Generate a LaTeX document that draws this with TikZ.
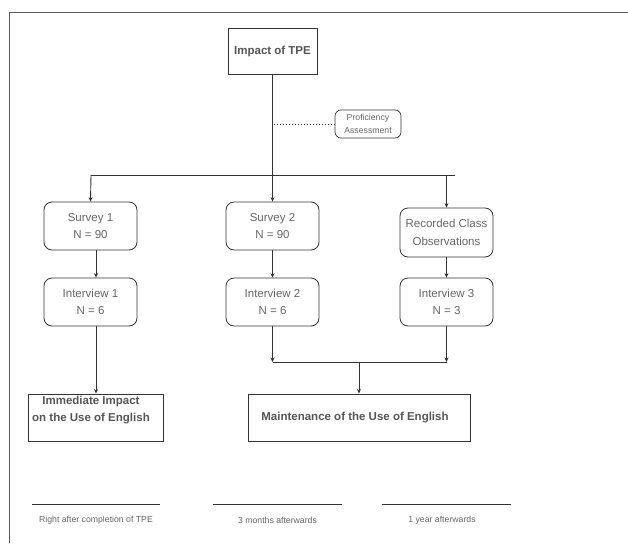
\documentclass[tikz,border=0pt]{standalone}
\usepackage{fontspec}
\setmainfont{Liberation Sans}
\usetikzlibrary{arrows.meta}
\definecolor{lnc}{HTML}{333333}
\definecolor{txc}{HTML}{666666}
\definecolor{btc}{HTML}{555555}
\tikzset{
  rbox/.style={draw=lnc, line width=0.8pt, rounded corners=8pt, minimum width=93pt, minimum height=48pt, align=center, text=txc, font=\fontsize{11.5}{17.5}\selectfont},
  sbox/.style={draw=lnc, line width=1pt, inner sep=0pt},
  btxt/.style={text=btc, font=\bfseries\fontsize{11.5}{17}\selectfont, align=center, inner sep=0pt},
  conn/.style={draw=lnc, line width=0.9pt},
  arr/.style={conn, -{Stealth[length=4.5pt,width=4pt]}},
  small/.style={text=txc, font=\fontsize{8.7}{13}\selectfont, align=center, inner sep=0pt},
}
\begin{document}
\begin{tikzpicture}[x=1pt,y=-1pt]
\useasboundingbox (0,0) rectangle (628,543);
\fill[white] (0,0) rectangle (628,543);
% frame
\draw[draw=lnc!80, line width=1pt] (9.5,543) -- (9.5,13) -- (628,13);

% top box
\node[sbox, minimum width=89pt, minimum height=45pt, btxt, draw=lnc, line width=1pt] (top) at (272.5,51.5) {Impact of TPE};
\node[draw=lnc, line width=0.7pt, rounded corners=6pt, minimum width=66pt, minimum height=28pt, small] (prof) at (368,124) {Proficiency\\Assessment};

% row boxes
\node[rbox] (s1) at (90.5,226) {Survey 1\\N = 90};
\node[rbox] (s2) at (272.5,226) {Survey 2\\N = 90};
\node[rbox, minimum height=49pt] (rec) at (446.5,232.5) {Recorded Class\\Observations};
\node[rbox] (i1) at (90.5,302) {Interview 1\\N = 6};
\node[rbox] (i2) at (272.5,302) {Interview 2\\N = 6};
\node[rbox] (i3) at (446.5,302) {Interview 3\\N = 3};

% outcome boxes
\node[sbox, minimum width=135pt, minimum height=47pt] (imm) at (95.5,417.5) {};
\node[btxt] (immt) at (91,410) {Immediate Impact\\on the Use of English};
\node[sbox, minimum width=222pt, minimum height=47pt] (mnt) at (359,417.5) {};
\node[btxt] (mntt) at (355,418) {Maintenance of the Use of English};

% connectors
\coordinate (hl) at (91,175);
\coordinate (hr) at (455,175);
\coordinate (hm) at (446.5,175);
\coordinate (dl) at (274,124);
\draw[arr] (top.south) -- (s2.north);
\draw[conn] (hl) -- (hr);
\draw[arr] (hl) -- (s1.north);
\draw[arr] (hm) -- (rec.north);
\draw[draw=lnc, line width=1pt, dotted] (dl) -- (prof.west);

\draw[arr] ([xshift=5.5pt]s1.south) -- ([xshift=5.5pt]i1.north);
\draw[arr] ([xshift=5.5pt]i1.south) -- (imm.north -| 96,0);
\draw[arr] (s2.south) -- (i2.north);
\draw[arr] (rec.south) -- (i3.north);

\coordinate (bl) at (272.5,362);
\coordinate (br) at (446.5,362);
\coordinate (bm) at (359,362);
\draw[arr] (i2.south) -- (bl);
\draw[arr] (i3.south) -- (br);
\draw[conn] (bl) -- (br);
\draw[arr] (bm) -- (mnt.north);

% timeline
\coordinate (t1a) at (32,504); \coordinate (t1b) at (160,504);
\coordinate (t2a) at (213,504); \coordinate (t2b) at (342,504);
\coordinate (t3a) at (382,504); \coordinate (t3b) at (511,504);
\draw[conn] (t1a) -- (t1b);
\draw[conn] (t2a) -- (t2b);
\draw[conn] (t3a) -- (t3b);
\node[small] (l1) at (96,520) {Right after completion of TPE};
\node[small] (l2) at (277.5,520) {3 months afterwards};
\node[small] (l3) at (442,520) {1 year afterwards};
\end{tikzpicture}
\end{document}
